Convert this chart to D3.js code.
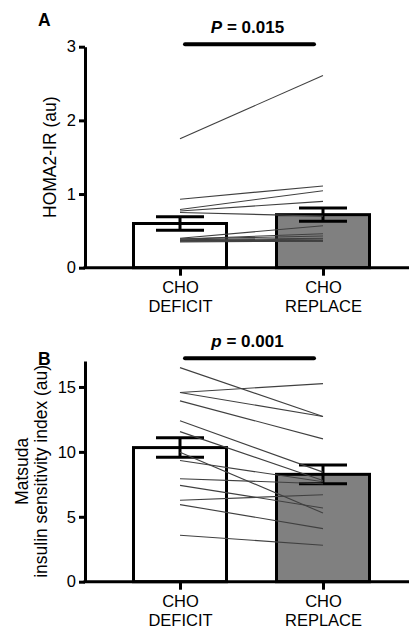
<!DOCTYPE html>
<html>
<head>
<meta charset="utf-8">
<script src="https://cdn.jsdelivr.net/npm/d3@7"></script>
<style>
  body { margin: 0; background: #fff; }
  text { font-family: "Liberation Sans", Arial, sans-serif; fill: #000; }
</style>
</head>
<body>
<div id="chart"></div>
<script>
// categories + tick labels
const categories = ["CHO DEFICIT", "CHO REPLACE"];
const homaTicks = [0, 1, 2, 3];
const matsudaTicks = [0, 5, 10, 15];

// group means and SEM
const homaMean = [0.60, 0.72];
const homaSem = [0.09, 0.09];
const matsudaMean = [10.33, 8.27];
const matsudaSem = [0.75, 0.72];

// individual subjects (deficit -> replace)
const homaDeficit = [1.75, 0.93, 0.79, 0.77, 0.75, 0.40, 0.39, 0.39, 0.38, 0.37, 0.37, 0.36, 0.35];
const homaReplace = [2.61, 1.11, 1.045, 0.90, 0.70, 0.57, 0.46, 0.43, 0.40, 0.39, 0.37, 0.36, 0.36];
const matsudaDeficit = [16.49, 14.57, 14.57, 13.93, 12.4, 11.56, 9.97, 9.33, 7.93, 7.42, 6.27, 5.94, 3.58];
const matsudaReplace = [12.73, 15.26, 12.73, 11.0, 8.44, 7.8, 5.29, 7.7, 7.55, 5.68, 6.70, 4.09, 2.81];

const width = 409;
const height = 628;
const left = 85;

const svg = d3.select("#chart")
  .append("svg")
  .attr("width", width)
  .attr("height", height);

// x positions are shared by both panels
const x = d3.scalePoint()
  .domain(categories)
  .range([left + 95, left + 238]);

const barW = 93;

function panel(opts) {
  const y = d3.scaleLinear()
    .domain(opts.domain)
    .range([opts.bottom, opts.top]);

  const g = svg.append("g");

  // bars
  g.append("g")
    .selectAll("rect")
    .data(categories)
    .join("rect")
      .attr("x", d => x(d) - barW / 2)
      .attr("width", barW)
      .attr("y", (d, i) => y(opts.mean[i]))
      .attr("height", (d, i) => y(0) - y(opts.mean[i]))
      .attr("fill", (d, i) => i == 0 ? "#fff" : "#808080")
      .attr("stroke", "#000")
      .attr("stroke-width", 3);

  // error bars
  const eb = g.append("g")
    .attr("stroke", "#000")
    .attr("stroke-width", 3)
    .selectAll("g")
    .data(categories)
    .join("g");
  eb.append("line")
    .attr("x1", d => x(d)).attr("x2", d => x(d))
    .attr("y1", (d, i) => y(opts.mean[i] + opts.sem[i]))
    .attr("y2", (d, i) => y(opts.mean[i] - opts.sem[i]));
  [1, -1].forEach(s => {
    eb.append("line")
      .attr("x1", d => x(d) - 24).attr("x2", d => x(d) + 24)
      .attr("y1", (d, i) => y(opts.mean[i] + s * opts.sem[i]))
      .attr("y2", (d, i) => y(opts.mean[i] + s * opts.sem[i]));
  });

  // paired subject lines
  g.append("g")
    .attr("stroke", "#404040")
    .attr("stroke-width", 1.1)
    .selectAll("line")
    .data(opts.pre)
    .join("line")
      .attr("x1", x(categories[0]))
      .attr("x2", x(categories[1]))
      .attr("y1", d => y(d))
      .attr("y2", (d, i) => y(opts.post[i]));

  // y axis
  const yAxis = g.append("g")
    .attr("transform", `translate(${left},0)`)
    .call(d3.axisLeft(y).tickValues(opts.ticks).tickFormat(d3.format("d"))
      .tickSize(6).tickPadding(3).tickSizeOuter(0));
  yAxis.select(".domain").attr("stroke-width", 3);
  yAxis.selectAll(".tick line").attr("stroke-width", 3);
  yAxis.selectAll(".tick text").attr("font-size", 16.5).attr("fill", "#000");

  // x axis
  const xAxis = g.append("g")
    .attr("transform", `translate(0,${opts.bottom})`)
    .call(d3.axisBottom(x).tickSize(8).tickSizeOuter(0).tickFormat(""));
  xAxis.select(".domain").remove();
  xAxis.selectAll(".tick line").attr("stroke-width", 3);
  xAxis.append("line")
    .attr("x1", left - 1.5).attr("x2", width)
    .attr("stroke", "#000").attr("stroke-width", 3);
  xAxis.selectAll(".tick").append("text")
    .attr("font-size", 16.5)
    .attr("text-anchor", "middle")
    .selectAll("tspan")
    .data(d => d.split(" "))
    .join("tspan")
      .attr("x", 0)
      .attr("y", (d, i) => 25 + i * 19)
      .text(d => d);

  // y title
  const yt = g.append("text")
    .attr("transform", `translate(0,${(opts.top + opts.bottom) / 2}) rotate(-90)`)
    .attr("text-anchor", "middle")
    .attr("font-size", 17.5);
  yt.selectAll("tspan")
    .data(opts.ylabel)
    .join("tspan")
      .attr("x", 0)
      .attr("y", (d, i) => opts.ylabelX[i])
      .text(d => d);

  // panel letter
  g.append("text")
    .attr("x", 38)
    .attr("y", opts.letterY)
    .attr("font-size", 17.5)
    .attr("font-weight", "bold")
    .text(opts.letter);

  // significance bar
  g.append("line")
    .attr("x1", x(categories[0]) + 5)
    .attr("x2", x(categories[1]) - 9)
    .attr("y1", opts.sigY).attr("y2", opts.sigY)
    .attr("stroke", "#000")
    .attr("stroke-width", 4)
    .attr("stroke-linecap", "round");

  const sig = g.append("text")
    .attr("x", (x(categories[0]) + x(categories[1])) / 2 - 4)
    .attr("y", opts.sigY - 11)
    .attr("text-anchor", "middle")
    .attr("font-size", 17)
    .attr("font-weight", "bold");
  sig.append("tspan").attr("font-style", "italic").text(opts.pLetter);
  sig.append("tspan").text(" = " + opts.pValue);
}

panel({
  domain: [0, 3], top: 46.7, bottom: 267.7,
  mean: homaMean, sem: homaSem, pre: homaDeficit, post: homaReplace,
  ticks: homaTicks,
  ylabel: ["HOMA2-IR (au)"], ylabelX: [56],
  letter: "A", letterY: 26,
  sigY: 44.3, pLetter: "P", pValue: "0.015"
});

panel({
  domain: [0, 17], top: 361, bottom: 581.7,
  mean: matsudaMean, sem: matsudaSem, pre: matsudaDeficit, post: matsudaReplace,
  ticks: matsudaTicks,
  ylabel: ["Matsuda", "insulin sensitivity index (au)"], ylabelX: [28, 47],
  letter: "B", letterY: 365,
  sigY: 358.3, pLetter: "p", pValue: "0.001"
});
</script>
</body>
</html>
